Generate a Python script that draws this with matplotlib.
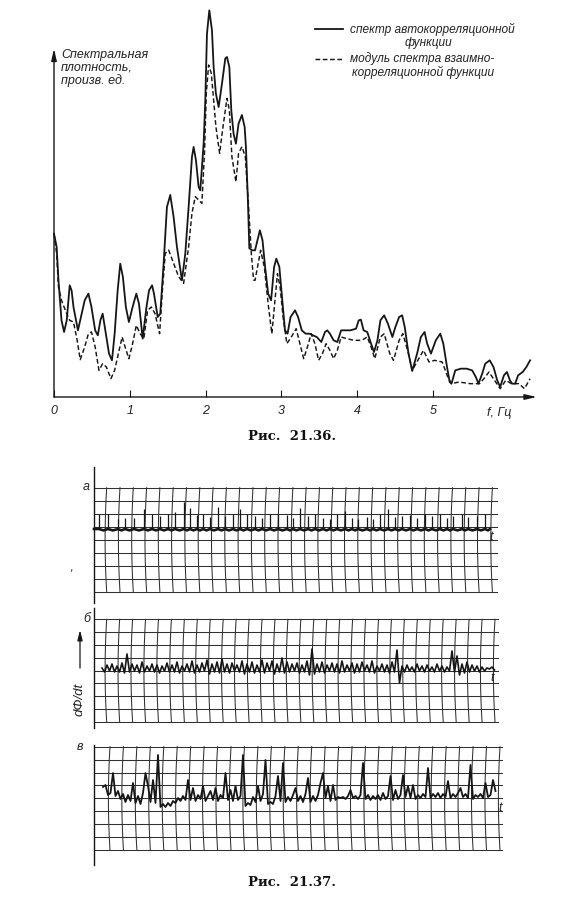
import numpy as np
import matplotlib.pyplot as plt
from matplotlib.lines import Line2D

W, H = 584, 900

# ---- Рис. 21.36: спектр автокорреляционной функции (сплошная)
auto_f = [0.000, 0.035, 0.059, 0.099, 0.133, 0.168, 0.207, 0.232, 0.257, 0.316,
          0.356, 0.405, 0.454, 0.494, 0.543, 0.578, 0.612, 0.642, 0.677, 0.726,
          0.765, 0.800, 0.840, 0.874, 0.909, 0.948, 0.988, 1.037, 1.086, 1.121,
          1.170, 1.220, 1.254, 1.294, 1.319, 1.368,
          1.402, 1.446, 1.490, 1.534, 1.578, 1.622, 1.688, 1.732, 1.776, 1.820,
          1.842, 1.873, 1.908, 1.930, 1.974, 1.996, 2.018, 2.049, 2.084, 2.106,
          2.136, 2.172, 2.216, 2.260, 2.282, 2.313, 2.339, 2.369, 2.400, 2.435,
          2.479, 2.515, 2.532, 2.558, 2.577,
          2.617, 2.652, 2.716, 2.751, 2.785, 2.825, 2.864, 2.904, 2.933, 2.973,
          3.012, 3.047, 3.081, 3.121, 3.180, 3.220, 3.269, 3.319, 3.368, 3.417,
          3.467, 3.526, 3.575, 3.605, 3.640, 3.689, 3.738, 3.788, 3.837, 3.911,
          3.985, 4.020, 4.049, 4.084, 4.133, 4.183, 4.222, 4.267, 4.306, 4.356,
          4.405, 4.464, 4.504, 4.553, 4.593, 4.627, 4.677, 4.726, 4.790, 4.840,
          4.889, 4.923, 4.973, 5.037, 5.096, 5.136, 5.185, 5.220, 5.244, 5.294,
          5.368, 5.442, 5.516, 5.565, 5.600, 5.649, 5.689, 5.748, 5.798, 5.847,
          5.886, 5.936, 5.975, 6.015, 6.044, 6.084, 6.123, 6.183, 6.232, 6.281]
auto_s = [49.0, 45.0, 35.0, 23.0, 19.5, 23.0, 33.5, 32.0, 27.0, 20.0,
          24.0, 29.0, 31.0, 27.0, 20.0, 18.5, 23.0, 25.0, 20.0, 13.0,
          11.0, 19.0, 32.0, 40.0, 36.0, 27.0, 22.5, 27.0, 31.0, 28.0,
          17.5, 27.0, 32.0, 33.5, 31.0, 24.0,
          25.0, 40.0, 57.0, 60.6, 54.0, 45.0, 35.0, 43.0, 57.0, 72.0,
          75.0, 71.0, 63.0, 62.0, 76.0, 89.0, 109.0, 116.0, 110.0, 99.0,
          91.0, 87.0, 94.0, 101.6, 102.0, 99.0, 86.0, 79.0, 76.0, 82.0,
          84.6, 81.0, 75.0, 59.0, 44.6,
          44.0, 44.0, 50.0, 47.0, 39.0, 31.0, 29.0, 39.0, 41.5, 39.0,
          29.0, 20.0, 19.0, 24.0, 26.0, 24.0, 20.0, 19.0, 19.0, 18.5,
          18.0, 16.5, 19.5, 20.0, 19.0, 17.0, 16.5, 20.0, 20.0, 20.0,
          20.5, 23.0, 23.2, 20.0, 19.5, 16.0, 13.5, 17.0, 23.0, 24.5,
          22.0, 18.0, 21.0, 24.0, 24.5, 21.0, 13.0, 7.8, 13.0, 18.0,
          19.5, 16.0, 13.0, 17.0, 19.0, 16.0, 9.0, 4.5, 4.0, 8.0,
          8.5, 8.5, 8.0, 6.0, 4.0, 7.0, 10.0, 11.0, 9.0, 5.0,
          3.0, 6.5, 7.5, 5.0, 4.0, 4.0, 6.5, 7.5, 9.0, 11.0]

# модуль спектра взаимнокорреляционной функции (штриховая)
cross_f = [0.000, 0.035, 0.059, 0.099, 0.133, 0.168, 0.207, 0.257, 0.306, 0.346,
           0.405, 0.454, 0.494, 0.543, 0.593, 0.642, 0.691, 0.751, 0.800, 0.849,
           0.899, 0.938, 0.988, 1.037, 1.086, 1.136, 1.185, 1.235, 1.284, 1.333,
           1.393, 1.430,
           1.468, 1.512, 1.578, 1.644, 1.710, 1.776, 1.820, 1.864, 1.908, 1.951,
           1.987, 2.009, 2.040, 2.075, 2.106, 2.136, 2.185, 2.224, 2.282, 2.313,
           2.347, 2.400, 2.435, 2.479, 2.524, 2.567, 2.603, 2.633,
           2.652, 2.726, 2.775, 2.825, 2.874, 2.948, 2.983, 3.022, 3.072, 3.131,
           3.195, 3.244, 3.294, 3.343, 3.393, 3.442, 3.491, 3.541, 3.590, 3.640,
           3.689, 3.738, 3.788, 3.862, 3.960, 4.059, 4.133, 4.183, 4.232, 4.306,
           4.356, 4.430, 4.479, 4.553, 4.602, 4.677, 4.726, 4.800, 4.874, 4.948,
           5.022, 5.121, 5.195, 5.244, 5.343, 5.491, 5.615, 5.689, 5.738, 5.812,
           5.886, 5.960, 6.035, 6.133, 6.207, 6.281]
cross_s = [49.0, 43.0, 33.0, 29.0, 27.0, 25.0, 23.0, 22.5, 17.0, 11.2,
           15.0, 19.0, 19.5, 15.0, 8.0, 10.0, 9.0, 5.5, 8.0, 13.0,
           18.0, 15.0, 11.5, 16.0, 21.5, 19.0, 17.5, 26.0, 27.0, 25.0,
           19.0, 32.0,
           43.1, 44.1, 40.1, 36.1, 34.1, 45.1, 55.1, 60.1, 59.1, 58.1,
           74.1, 91.1, 99.6, 97.1, 89.1, 81.1, 73.1, 80.1, 89.6, 86.1,
           72.1, 64.6, 73.1, 75.1, 72.1, 57.1, 43.1, 35.1,
           35.0, 44.0, 39.0, 28.0, 19.0, 37.0, 33.0, 24.0, 16.0, 18.0,
           20.5, 16.0, 11.5, 15.0, 19.0, 16.0, 11.0, 13.0, 16.0, 14.0,
           11.5, 14.0, 18.0, 17.5, 17.0, 17.0, 18.0, 15.0, 11.5, 18.0,
           19.0, 13.0, 11.0, 17.0, 19.0, 13.0, 8.0, 11.0, 14.0, 10.5,
           11.0, 10.5, 6.0, 4.0, 4.5, 4.0, 4.0, 6.0, 7.5, 5.0,
           2.5, 5.0, 4.0, 4.0, 2.5, 5.5]

freq_ticks = [0, 1, 2, 3, 4, 5]

# ---- Рис. 21.37: записи dΦ/dt (а, б, в)
rec_a_t = [5, 14, 24, 31, 40, 50, 58, 66, 74, 81, 90, 96, 103, 109, 116, 124,
           131, 139, 146, 153, 161, 168, 176, 184, 193, 199, 206, 214, 221, 229,
           236, 243, 251, 258, 264, 273, 279, 286, 294, 301, 308, 316, 323, 331,
           338, 346, 353, 359, 368, 374, 383, 391]
rec_a_h = [15, 15, 10, 11, 11, 20, 15, 13, 15, 17, 27, 21, 14, 15, 12, 22,
           13, 15, 20, 15, 13, 11, 15, 15, 14, 11, 21, 13, 15, 11,
           10, 15, 18, 11, 10, 12, 10, 15, 20, 12, 13, 14, 11, 15,
           13, 15, 11, 13, 15, 12, 13, 15]

rec_b = [2, -2, 5, -1, 6, -2, 4, -2, 7, -3,
         16, -2, 6, -1, 5, -3, 8, -2, 4, -1,
         6, -2, 5, -3, 4, -1, 7, -2, 5, -2,
         8, -3, 4, -1, 6, -2, 9, -3, 5, -2,
         7, -1, 10, -4, 6, -2, 8, -3, 11, -2,
         6, -3, 7, -1, 5, -2, 9, -4, 6, -2,
         8, -3, 5, -2, 10, -3, 7, -1, 9, -4,
         6, -2, 12, -3, 8, -2, 6, -1, 7, -3,
         5, -2, 9, -5, 21, -4, 6, -2, 8, -3,
         5, -1, 7, -2, 6, -3, 9, -2, 5, -1,
         7, -3, 6, -2, 8, -1, 5, -2, 9, -3,
         4, -1, 6, -2, 5, -3, 8, -2, 20, -13,
         4, -2, 5, -1, 3, -2, 6, -1, 4, -2,
         5, -1, 3, -2, 6, -1, 4, -2, 3, -1,
         19, -2, 14, -5, 6, -3, 8, -2, 5, -1,
         4, -2, 3, -1, 2, 1, 3, 0]

rec_c = [12, 14, 4, 6, 26, 3, 8, 0, 5, -3,
         4, -2, 16, -4, 3, -5, 6, 26, 13, -3,
         19, -4, 44, -8, -5, -8, -4, -7, -2, -4,
         1, -2, 3, -1, 19, -1, 11, -2, 4, 0,
         13, -2, 3, 8, -1, 11, -2, 4, 1, 26,
         -1, 9, -2, 13, -1, 3, 44, -7, -4, -6,
         2, -3, 13, -2, 5, 39, -5, -3, -5, 3,
         23, -2, 36, -3, 2, -2, 4, 11, -2, 3,
         -3, 5, 21, -3, 3, -2, 4, 16, 26, 1,
         13, -2, 14, -1, 2, 1, 2, 0, 3, 9,
         1, 3, 0, 4, 36, 0, 4, -1, 3, 0,
         4, -1, 6, 0, 3, 23, -1, 9, 0, 4,
         24, 2, 13, 1, 14, 0, 4, 1, 5, 2,
         31, 1, 5, 2, 6, 1, 5, 2, 18, 1,
         5, 2, 6, 11, 2, 5, 1, 34, 0, 4,
         2, 5, 1, 16, 2, 4, 19, 8]

INK = "#161616"
hand = dict(family=["Liberation Sans", "DejaVu Sans"], style="italic", color="#222222")
DASH = (0, (3.2, 1.8))
fig = plt.figure(figsize=(W / 100, H / 100), dpi=100)
fig.patch.set_facecolor("white")


def px_rect(x0, y0, x1, y1):
    return [x0 / W, 1 - y1 / H, (x1 - x0) / W, (y1 - y0) / H]


def ftext(x, y, s, **kw):
    fig.text(x / W, 1 - y / H, s, **kw)


# ---------------- верхний график ----------------
X0, Y0, PX_HZ, PX_U = 54, 397, 75.8, 1 / 0.3
F_MAX, S_MAX = 6.5, 117.6
ax = fig.add_axes(px_rect(X0, Y0 - S_MAX * PX_U, X0 + F_MAX * PX_HZ, Y0))
ax.set_xlim(0, F_MAX)
ax.set_ylim(0, S_MAX)
for sp in ax.spines.values():
    sp.set_visible(False)

ax.plot(auto_f, auto_s, color=INK, lw=1.3, clip_on=False)
ax.plot(cross_f, cross_s, color=INK, lw=1.05, ls=DASH, clip_on=False)

arrow = dict(arrowstyle="-|>,head_length=0.7,head_width=0.16", color=INK, lw=1.0,
             shrinkA=0, shrinkB=0)
ax.annotate("", xy=(0, 104.5), xytext=(0, 0), arrowprops=arrow, annotation_clip=False)
ax.annotate("", xy=(6.37, 0), xytext=(0, 0), arrowprops=arrow, annotation_clip=False)

ax.set_xticks(freq_ticks)
ax.set_xticklabels([str(t) for t in freq_ticks], fontsize=9, **hand)
ax.tick_params(axis="x", direction="in", length=5, width=0.8, color=INK, pad=6)
ax.set_yticks([])
ax.text(5.87, -4.8, "f, Гц", fontsize=9, ha="center", va="center", **hand)
ax.text(0.09, 104.5, "Спектральная\nплотность,\nпроизв. ед.", fontsize=9,
        ha="left", va="top", linespacing=1.05, **hand)

# легенда: образцы линий и подписи
for y, ls in [(29, "-"), (59, DASH)]:
    fig.add_artist(Line2D([315 / W, 343 / W], [1 - y / H, 1 - y / H],
                          transform=fig.transFigure, color=INK,
                          lw=1.3 if ls == "-" else 1.05, ls=ls))
ftext(350, 29, "спектр автокорреляционной", fontsize=8.6, ha="left", va="center", **hand)
ftext(428, 43, "функции", fontsize=8.6, ha="center", va="center", **hand)
ftext(350, 58.5, "модуль спектра взаимно-", fontsize=8.6, ha="left", va="center", **hand)
ftext(352, 72, "корреляционной функции", fontsize=8.6, ha="left", va="center", **hand)

ftext(292, 437, "Рис.  21.36.", family="DejaVu Serif", weight="bold", fontsize=9.5,
      ha="center", va="center", color="#111111")

# ---------------- ленты самописца ----------------
LEFT = 94
panels = [
    dict(label="а", lab_xy=(86, 487), t_xy=(491, 537), base=529,
         grid=(487.7, 591.7), v=(106.7, 492.4, 30), right=497, axis=(467, 603)),
    dict(label="б", lab_xy=(87, 619), t_xy=(492, 678), base=670,
         grid=(619.3, 721.7), v=(106.7, 495.0, 31), right=498, axis=(608, 728)),
    dict(label="в", lab_xy=(80, 747), t_xy=(500, 808), base=799,
         grid=(746.7, 850.0), v=(110.0, 500.0, 30), right=502, axis=(745, 865)),
]
axes = []
for p in panels:
    top, bot = p["axis"][0] - 15, p["axis"][1] + 5
    a = fig.add_axes(px_rect(60, top, 520, bot))
    a.set_xlim(60 - LEFT, 520 - LEFT)
    a.set_ylim(p["base"] - bot, p["base"] - top)
    a.axis("off")
    g0, g1 = p["base"] - p["grid"][0], p["base"] - p["grid"][1]
    for k in range(9):
        yk = g0 + (g1 - g0) * k / 8
        a.plot([0, p["right"] - LEFT], [yk, yk], color="#303030", lw=0.75)
    yy = np.linspace(g0, g1, 40)
    s = (yy - (g0 + g1) / 2) / ((g0 - g1) / 2)
    v0, v1, nv = p["v"]
    for k in range(nv):
        xk = v0 + (v1 - v0) * k / (nv - 1) - LEFT
        a.plot(xk - 1.6 * (1 - s ** 2), yy, color="#303030", lw=0.75)
    a.plot([0, 0], [p["base"] - p["axis"][0], p["base"] - p["axis"][1]], color=INK, lw=1.0)
    ftext(*p["lab_xy"], p["label"], fontsize=9, ha="center", va="center", **hand)
    ftext(*p["t_xy"], "t", fontsize=9, ha="center", va="center", **hand)
    axes.append(a)

# а: толстая базовая линия с провалами и тонкие импульсы
ta, ya = [0], [0]
for i, t in enumerate(rec_a_t):
    nxt = rec_a_t[i + 1] if i + 1 < len(rec_a_t) else t + 6
    ta += [t, (t + nxt) / 2]
    ya += [0, -1.4]
ta.append(396)
ya.append(0)
axes[0].plot(ta, ya, color=INK, lw=1.9)
axes[0].vlines(rec_a_t, 0, rec_a_h, color=INK, lw=0.9)

# б, в: отсчёты с шагом 2.5
axes[1].plot(8 + 2.5 * np.arange(len(rec_b)), rec_b, color=INK, lw=1.2)
axes[2].plot(9 + 2.5 * np.arange(len(rec_c)), rec_c, color=INK, lw=1.3)

ftext(80, 699, "dΦ/dt", fontsize=9.5, rotation=90, ha="center", va="center", **hand)
axes[1].annotate("", xy=(-14, 670 - 630), xytext=(-14, 670 - 668),
                 arrowprops=dict(arrowstyle="-|>,head_length=0.6,head_width=0.15",
                                 color=INK, lw=0.9, shrinkA=0, shrinkB=0),
                 annotation_clip=False)
ftext(71, 568, ",", fontsize=8, ha="center", va="center", color="#444444")

ftext(292, 883, "Рис.  21.37.", family="DejaVu Serif", weight="bold", fontsize=9.5,
      ha="center", va="center", color="#111111")

fig.savefig("out.png", dpi=100, facecolor="white")
